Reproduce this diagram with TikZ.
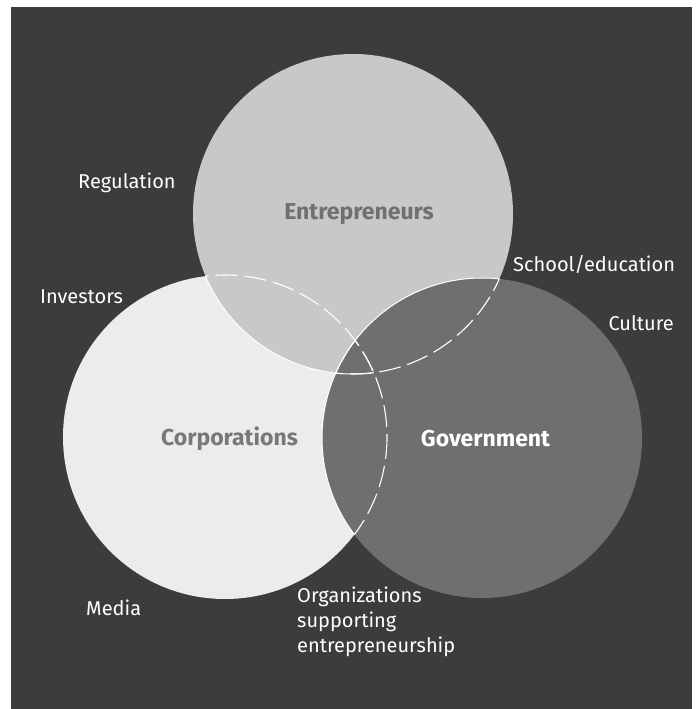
\documentclass[tikz,border=0pt]{standalone}
\usepackage{fontspec}
\setmainfont{Fira Sans}
\definecolor{bgdark}{HTML}{3C3C3A}
\definecolor{entfill}{HTML}{C8C8C8}
\definecolor{corpfill}{HTML}{ECECEC}
\definecolor{govfill}{HTML}{6F6F6F}
\definecolor{entlabel}{HTML}{707070}
\definecolor{corplabel}{HTML}{787878}
\begin{document}
\begin{tikzpicture}[x=1pt,y=-1pt,
  sidelabel/.style={text=white,font=\fontsize{20}{25}\selectfont,inner sep=0pt},
  biglabel/.style={font=\fontsize{23}{26}\selectfont\bfseries,inner sep=0pt},
  edgeline/.style={white,line width=1pt},
  hiddenline/.style={white,line width=1.1pt,dash pattern=on 22pt off 7pt}]
\useasboundingbox (0,0) rectangle (697,709);
\fill[white] (0,0) rectangle (697,709);
\fill[bgdark] (11,7) rectangle (692,709);

% circle centres and radii
\coordinate (E) at (353,214);
\coordinate (C) at (225,437);
\coordinate (G) at (482,438);
\def\rE{160}\def\rC{162}\def\rG{160}

% filled sets, later ones on top
\fill[corpfill] (C) circle[radius=\rC];
\fill[entfill] (E) circle[radius=\rE];
\fill[govfill] (G) circle[radius=\rG];

% visible borders where one set overlaps another
\begin{scope}
  \clip (C) circle[radius=\rC];
  \draw[edgeline] (E) circle[radius=\rE];
  \draw[edgeline] (G) circle[radius=\rG];
\end{scope}
\begin{scope}
  \clip (E) circle[radius=\rE];
  \draw[edgeline] (G) circle[radius=\rG];
\end{scope}

% hidden borders, dashed
\begin{scope}
  \clip (E) circle[radius=\rE];
  \draw[hiddenline] (C) circle[radius=\rC];
\end{scope}
\begin{scope}
  \clip (G) circle[radius=\rG];
  \draw[hiddenline] (C) circle[radius=\rC];
  \draw[hiddenline] (E) circle[radius=\rE];
\end{scope}

% set names
\node[biglabel,text=entlabel] (entname) at (359,214) {Entrepreneurs};
\node[biglabel,text=corplabel] (corpname) at (229.5,439) {Corporations};
\node[biglabel,text=white] (govname) at (485.5,439) {Government};

% surrounding labels
\node[sidelabel,anchor=base west] (regulation) at (78,188) {Regulation};
\node[sidelabel,anchor=base west] (investors) at (40,303) {Investors};
\node[sidelabel,anchor=base west] (school) at (513,271) {School/education};
\node[sidelabel,anchor=base east] (culture) at (674,330) {Culture};
\node[sidelabel,anchor=base west] (media) at (86,615) {Media};
\node[sidelabel,anchor=base west,align=left] (orgs) at (297,652)
  {Organizations\\supporting\\entrepreneurship};
\end{tikzpicture}
\end{document}
